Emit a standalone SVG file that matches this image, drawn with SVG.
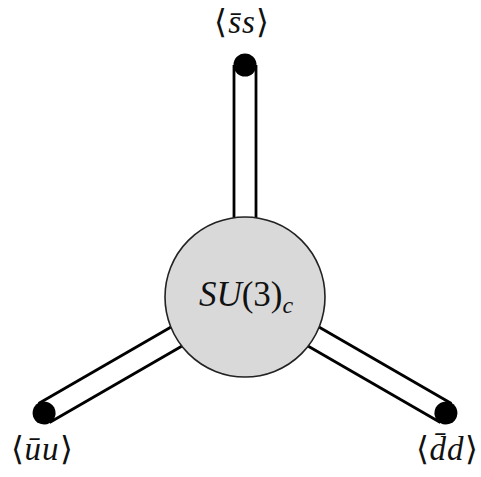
<svg xmlns="http://www.w3.org/2000/svg" width="481" height="477" viewBox="0 0 481 477">
<style>
.tl{stroke:#000;stroke-width:2.8;fill:none}
.tf{fill:#fff;stroke:none}
.dot{fill:#000}
</style>
<defs>
<g id="tube">
<rect class="tf" x="0" y="-11" width="232" height="22"/>
<line class="tl" x1="0" y1="-11" x2="232" y2="-11"/>
<line class="tl" x1="0" y1="11" x2="232" y2="11"/>
<circle class="dot" cx="232" cy="0" r="11.5"/>
</g>
</defs>
<rect width="481" height="477" fill="#fff"/>
<g id="connectors">
<use href="#tube" transform="translate(245 297) rotate(-90)"/>
<use href="#tube" transform="translate(245 297) rotate(150)"/>
<use href="#tube" transform="translate(245 297) rotate(30)"/>
</g>
<g font-family="Liberation Serif, serif" fill="#111">
<g id="su3">
<circle cx="245" cy="297" r="80" fill="#d9d9d9" stroke="#222" stroke-width="1.6"/>
<text x="246" y="306" text-anchor="middle" font-size="35"><tspan font-style="italic">SU</tspan>(3)<tspan font-style="italic" dy="7" font-size="24">c</tspan></text>
</g>
<g id="ss">
<text x="242" y="33" text-anchor="middle" font-size="33" letter-spacing="1">⟨<tspan font-style="italic">s̄s</tspan>⟩</text>
</g>
<g id="uu">
<text x="42" y="460" text-anchor="middle" font-size="33" letter-spacing="1">⟨<tspan font-style="italic">ūu</tspan>⟩</text>
</g>
<g id="dd">
<text x="447" y="460" text-anchor="middle" font-size="33" letter-spacing="1">⟨<tspan font-style="italic">d̄d</tspan>⟩</text>
</g>
</g>
</svg>
